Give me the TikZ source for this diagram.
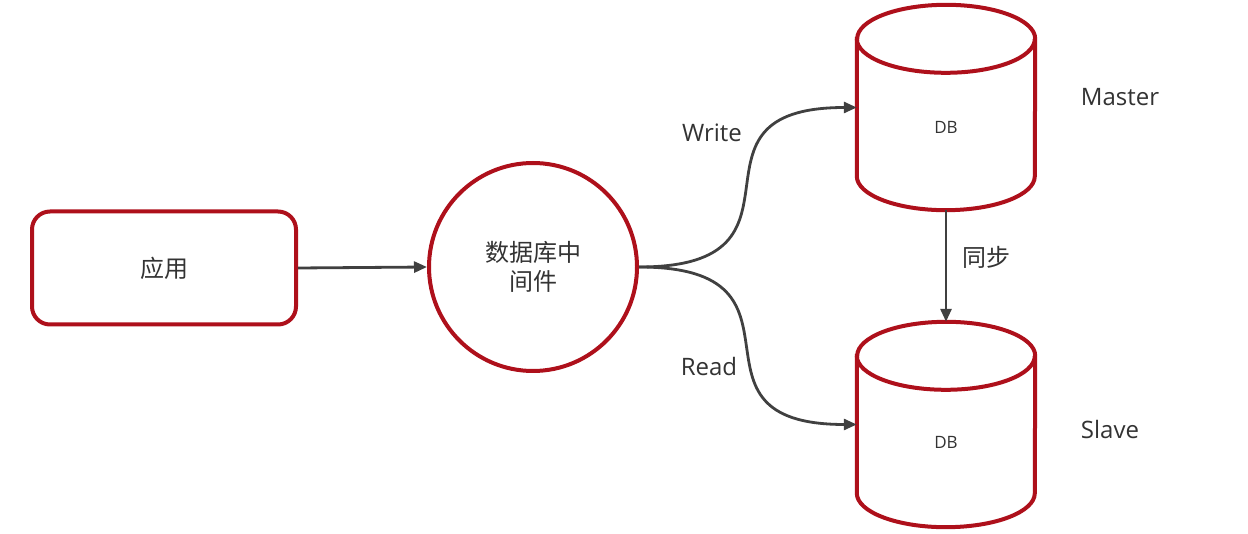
\documentclass[tikz,border=0pt]{standalone}
\usepackage{fontspec}
\setmainfont{Open Sans}
\newfontfamily\cjk{Noto Sans CJK SC}
\definecolor{dbRed}{HTML}{AE101B}
\definecolor{dbArrow}{HTML}{404040}
\definecolor{dbText}{HTML}{333333}
\usetikzlibrary{calc,positioning,arrows.meta}

\begin{document}
\begin{tikzpicture}[x=1pt, y=1pt,
    redline/.style={draw=dbRed, line width=4pt},
    conn/.style={dbArrow, line width=2.8pt, -{Triangle[length=13pt,width=11pt]}},
    lbl/.style={text=dbText, font=\fontsize{24}{28}\selectfont},
    cjklbl/.style={text=dbText, font=\cjk\fontsize{24}{29}\selectfont, align=center},
    dbbox/.style={minimum width=178pt, minimum height=205pt, inner sep=0pt}]
  \useasboundingbox (0,0) rectangle (1248,533);

  % Application box and middleware
  \node[redline, rounded corners=18pt, minimum width=264pt, minimum height=113pt, cjklbl] (app) at (164,265) {应用};
  \node[redline, circle, minimum size=208pt, inner sep=0pt, cjklbl] (mid) at (533,266) {数据库中\\间件};

  % Database cylinders (outline drawn around an empty box)
  \node[dbbox] (master) at (946,425.5) {};
  \node[dbbox] (slave) at (946,108.5) {};
  \foreach \db in {master, slave} {
    \draw[redline, fill=white] ([yshift=-34pt]\db.north west) -- ([yshift=34pt]\db.south west)
      arc[start angle=180, end angle=360, x radius=89pt, y radius=34pt]
      -- ([yshift=-34pt]\db.north east)
      arc[start angle=0, end angle=180, x radius=89pt, y radius=34pt] -- cycle;
    \draw[redline] ([yshift=-34pt]\db.north west)
      arc[start angle=180, end angle=360, x radius=89pt, y radius=34pt];
  }
  \node[text=dbText, font=\fontsize{17}{20}\selectfont] (masterdb) at (946,406) {DB};
  \node[text=dbText, font=\fontsize{17}{20}\selectfont] (slavedb) at (946,91) {DB};

  % Connectors
  \draw[conn] (app.east) -- (mid.west);
  \draw[conn] (mid.east) to[out=0, in=180, looseness=1.8] (master.west);
  \draw[conn] (mid.east) to[out=0, in=180, looseness=1.8] (slave.west);
  \draw[conn] (master.south) -- (slave.north);

  % Labels
  \node[lbl] (write) at (712,400) {Write};
  \node[lbl] (read) at (709,166) {Read};
  \node[cjklbl] (sync) at (986,276) {同步};
  \node[lbl] (masterlbl) at (1120,436) {Master};
  \node[lbl] (slavelbl) at (1110,103) {Slave};
\end{tikzpicture}
\end{document}
